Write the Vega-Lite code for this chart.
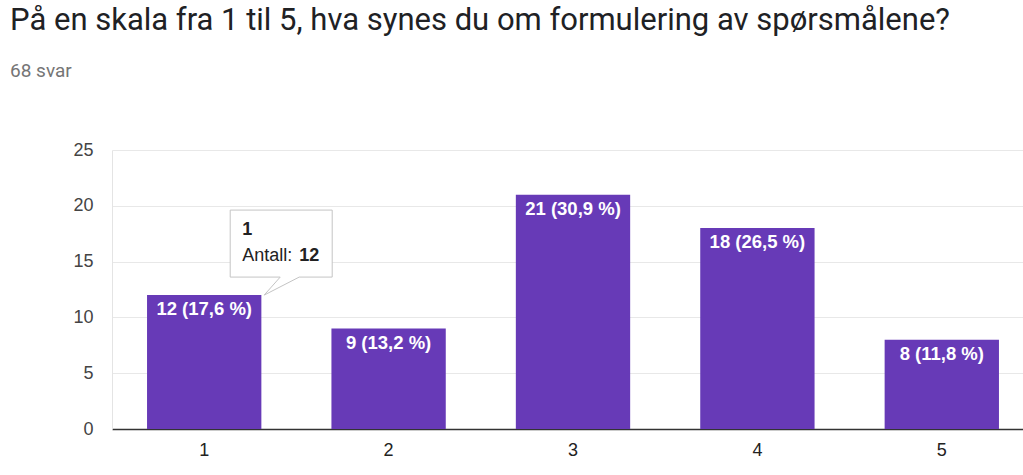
{
  "$schema": "https://vega.github.io/schema/vega-lite/v6.json",
  "width": 911,
  "height": 279,
  "autosize": {"type": "none"},
  "padding": {"left": 112, "top": 150, "right": 0, "bottom": 46},
  "background": "white",
  "title": {
    "text": "På en skala fra 1 til 5, hva synes du om formulering av spørsmålene?",
    "subtitle": "68 svar",
    "anchor": "start",
    "frame": "group",
    "dx": -102,
    "offset": 59,
    "font": "Roboto",
    "fontSize": 31,
    "fontWeight": "normal",
    "color": "#202124",
    "subtitleFont": "Roboto",
    "subtitleFontSize": 19,
    "subtitleColor": "#757575",
    "subtitlePadding": 25
  },
  "config": {
    "view": {"stroke": null},
    "font": "Liberation Sans"
  },
  "data": {
    "values": [
      {"svar": "1", "antall": 12, "etikett": "12 (17,6 %)"},
      {"svar": "2", "antall": 9, "etikett": "9 (13,2 %)"},
      {"svar": "3", "antall": 21, "etikett": "21 (30,9 %)"},
      {"svar": "4", "antall": 18, "etikett": "18 (26,5 %)"},
      {"svar": "5", "antall": 8, "etikett": "8 (11,8 %)"}
    ]
  },
  "encoding": {
    "x": {
      "field": "svar",
      "type": "nominal",
      "sort": null,
      "scale": {"range": [0, 922], "paddingInner": 0.38, "paddingOuter": 0.19},
      "axis": {
        "title": null,
        "labelAngle": 0,
        "ticks": false,
        "domainColor": "#333333",
        "domainWidth": 1.5,
        "labelPadding": 12,
        "labelFont": "Liberation Sans",
        "labelFontSize": 18,
        "labelColor": "#222222"
      }
    },
    "y": {
      "field": "antall",
      "type": "quantitative",
      "scale": {"domain": [0, 25], "nice": false},
      "axis": {
        "title": null,
        "values": [0, 5, 10, 15, 20, 25],
        "ticks": false,
        "domain": true,
        "domainColor": "#e4e4e4",
        "gridColor": "#e8e8e8",
        "labelPadding": 19,
        "labelFont": "Liberation Sans",
        "labelFontSize": 18,
        "labelColor": "#444444"
      }
    }
  },
  "layer": [
    {"mark": {"type": "bar", "color": "#673ab7"}},
    {
      "mark": {"type": "text", "color": "white", "baseline": "alphabetic", "dy": 20, "fontSize": 18.5, "fontWeight": "bold", "font": "Liberation Sans"},
      "encoding": {"text": {"field": "etikett"}}
    },
    {
      "transform": [{"filter": "datum.svar === '1'"}],
      "mark": {
        "type": "point",
        "filled": true,
        "opacity": 1,
        "size": 4,
        "fill": "white",
        "stroke": "#c4c4c4",
        "strokeWidth": 1,
        "shape": "M 26 -85 L 128 -85 L 128 -18 L 95 -18 L 60 0 L 76 -18 L 26 -18 Z"
      }
    },
    {
      "transform": [{"filter": "datum.svar === '1'"}],
      "mark": {"type": "text", "align": "left", "baseline": "alphabetic", "dx": 38, "dy": -60, "fontSize": 18, "fontWeight": "bold", "color": "#222222", "font": "Liberation Sans"},
      "encoding": {"text": {"field": "svar"}}
    },
    {
      "transform": [{"filter": "datum.svar === '1'"}],
      "mark": {"type": "text", "align": "left", "baseline": "alphabetic", "dx": 38, "dy": -34, "fontSize": 18, "color": "#222222", "font": "Liberation Sans", "text": "Antall:"}
    },
    {
      "transform": [{"filter": "datum.svar === '1'"}],
      "mark": {"type": "text", "align": "left", "baseline": "alphabetic", "dx": 95, "dy": -34, "fontSize": 18, "fontWeight": "bold", "color": "#222222", "font": "Liberation Sans"},
      "encoding": {"text": {"field": "antall"}}
    }
  ]
}
